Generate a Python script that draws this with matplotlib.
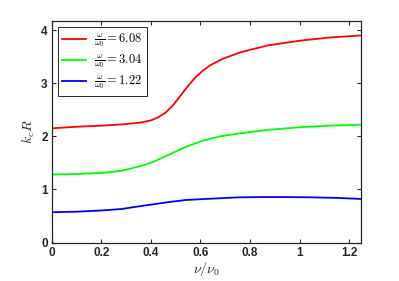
import matplotlib
matplotlib.use("Agg")
import matplotlib.pyplot as plt

plt.rcParams['font.family'] = ['Liberation Sans', 'DejaVu Sans']
plt.rcParams['mathtext.fontset'] = 'cm'

# nu/nu0 sample positions and k_c R values
nu_red = [0.0, 0.1, 0.2, 0.3, 0.36, 0.4, 0.43, 0.46, 0.49, 0.52, 0.55, 0.58, 0.61, 0.64,
          0.69, 0.76, 0.87, 1.0, 1.12, 1.25]
kr_red = [2.15, 2.18, 2.20, 2.23, 2.26, 2.30, 2.36, 2.45, 2.59, 2.77, 2.95, 3.11, 3.24, 3.34,
          3.46, 3.58, 3.71, 3.80, 3.86, 3.90]

nu_green = [0.0, 0.1, 0.2, 0.28, 0.36, 0.41, 0.48, 0.54, 0.61, 0.68, 0.75, 0.87, 1.0, 1.12, 1.25]
kr_green = [1.28, 1.29, 1.31, 1.35, 1.44, 1.52, 1.67, 1.80, 1.92, 2.00, 2.05, 2.12, 2.17, 2.20, 2.22]

nu_blue = [0.0, 0.1, 0.19, 0.28, 0.35, 0.41, 0.47, 0.54, 0.62, 0.75, 0.85, 0.95, 1.05, 1.15, 1.25]
kr_blue = [0.57, 0.58, 0.60, 0.63, 0.68, 0.72, 0.76, 0.80, 0.82, 0.85, 0.855, 0.855, 0.85, 0.84, 0.82]

labels = [r'$\frac{\omega}{\omega_0} = 6.08$',
          r'$\frac{\omega}{\omega_0} = 3.04$',
          r'$\frac{\omega}{\omega_0} = 1.22$']

fig = plt.figure(figsize=(3.99, 2.81), dpi=100)
ax = fig.add_axes([0.130, 0.137, 0.776, 0.788])

ax.plot(nu_red, kr_red, color='#ff0000', lw=1.3, label=labels[0])
ax.plot(nu_green, kr_green, color='#00ff00', lw=1.3, label=labels[1])
ax.plot(nu_blue, kr_blue, color='#0000ff', lw=1.3, label=labels[2])

ax.set_xlim(0, 1.25)
ax.set_ylim(0, 4.17)
ax.set_xticks([0, 0.2, 0.4, 0.6, 0.8, 1, 1.2])
ax.set_xticklabels(['0', '0.2', '0.4', '0.6', '0.8', '1', '1.2'])
ax.set_yticks([0, 1, 2, 3, 4])

ax.tick_params(direction='in', top=True, right=True, length=3, width=0.8,
               labelsize=8.5, colors='#262626', pad=3)
for t in ax.get_xticklabels() + ax.get_yticklabels():
    t.set_fontweight('bold')
for s in ax.spines.values():
    s.set_color('#262626')
    s.set_linewidth(0.9)

ax.set_xlabel(r'$\nu/\nu_0$', fontsize=10, color='#262626', labelpad=1)
ax.set_ylabel(r'$k_c R$', fontsize=10, color='#262626', labelpad=3)

leg = ax.legend(loc='upper left', fontsize=9, fancybox=False, framealpha=1,
                edgecolor='#262626', handlelength=1.9, handletextpad=0.6,
                borderpad=0.35, labelspacing=0.25, borderaxespad=0.5)
leg.get_frame().set_linewidth(0.7)

fig.savefig('out.png', dpi=100)
